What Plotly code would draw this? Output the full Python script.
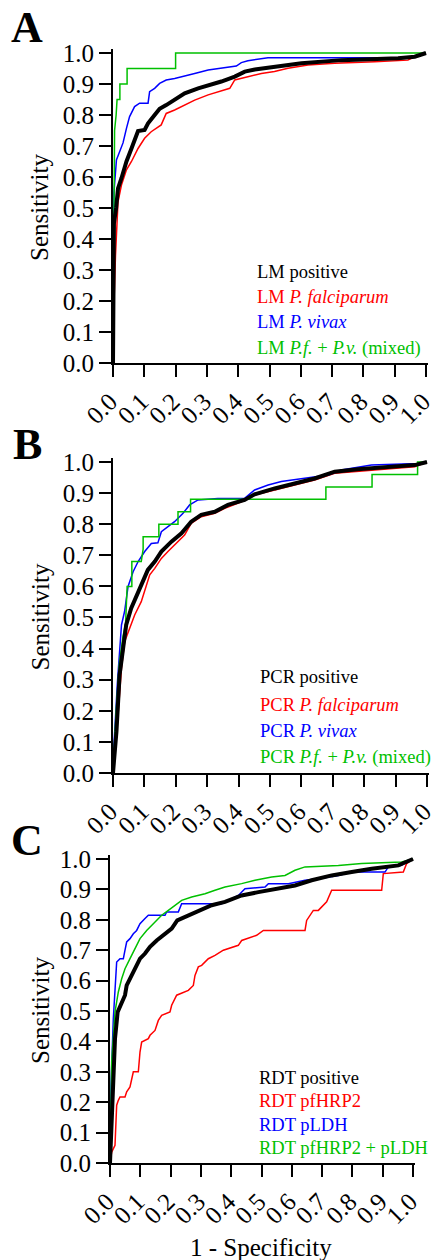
import plotly.graph_objects as go

# ---- data (1 - specificity, sensitivity) ----
# Panel A: light microscopy
lm_pos_fpr = [0, 0.003, 0.01, 0.016, 0.027, 0.043, 0.059, 0.08, 0.101, 0.112, 0.133, 0.149, 0.17, 0.197,
              0.229, 0.272, 0.314, 0.346, 0.389, 0.421, 0.453, 0.516, 0.602, 0.73, 0.911, 0.964, 1.0]
lm_pos_tpr = [0, 0.45, 0.5, 0.563, 0.596, 0.65, 0.692, 0.748, 0.752, 0.773, 0.8, 0.82, 0.832, 0.848,
              0.87, 0.886, 0.897, 0.908, 0.924, 0.94, 0.947, 0.956, 0.967, 0.977, 0.983, 0.988, 1.0]
lm_pf_fpr = [0, 0.003, 0.008, 0.016, 0.027, 0.043, 0.059, 0.08, 0.101, 0.122, 0.154, 0.17, 0.197, 0.229,
             0.261, 0.304, 0.336, 0.373, 0.389, 0.431, 0.474, 0.516, 0.559, 0.623, 0.708, 0.836, 0.942, 0.964, 1.0]
lm_pf_tpr = [0, 0.19, 0.348, 0.52, 0.574, 0.623, 0.65, 0.692, 0.725, 0.746, 0.768, 0.805, 0.816, 0.832,
             0.848, 0.865, 0.875, 0.886, 0.913, 0.924, 0.934, 0.94, 0.951, 0.961, 0.967, 0.972, 0.977, 0.988, 1.0]
lm_pv_fpr = [0, 0.003, 0.011, 0.021, 0.032, 0.043, 0.053, 0.069, 0.085, 0.112, 0.117, 0.133, 0.149, 0.17,
             0.197, 0.261, 0.304, 0.394, 0.41, 0.431, 0.495, 0.942, 0.985, 1.0]
lm_pv_tpr = [0, 0.55, 0.655, 0.68, 0.71, 0.757, 0.795, 0.827, 0.838, 0.838, 0.875, 0.886, 0.902, 0.913,
             0.918, 0.934, 0.945, 0.958, 0.969, 0.975, 0.985, 0.985, 0.995, 1.0]
lm_mix_fpr = [0, 0.003, 0.005, 0.01, 0.013, 0.022, 0.022, 0.045, 0.045, 0.2, 0.2, 1.0]
lm_mix_tpr = [0, 0.6, 0.75, 0.8, 0.85, 0.85, 0.9, 0.9, 0.95, 0.95, 1.0, 1.0]

# Panel B: PCR
pcr_pos_fpr = [0, 0.011, 0.021, 0.032, 0.042, 0.058, 0.08, 0.101, 0.111, 0.133, 0.154, 0.186, 0.218, 0.249,
               0.281, 0.324, 0.366, 0.419, 0.451, 0.515, 0.579, 0.642, 0.706, 0.78, 0.886, 0.961, 1.0]
pcr_pos_tpr = [0, 0.133, 0.315, 0.4, 0.476, 0.53, 0.583, 0.637, 0.653, 0.68, 0.712, 0.744, 0.771, 0.808,
               0.83, 0.84, 0.862, 0.878, 0.896, 0.915, 0.931, 0.947, 0.969, 0.977, 0.985, 0.99, 1.0]
pcr_pf_fpr = [0, 0.005, 0.016, 0.027, 0.037, 0.053, 0.069, 0.09, 0.106, 0.117, 0.133, 0.154, 0.175, 0.196,
              0.228, 0.249, 0.281, 0.324, 0.356, 0.409, 0.451, 0.515, 0.579, 0.642, 0.706, 0.833, 0.961, 1.0]
pcr_pf_tpr = [0, 0.047, 0.186, 0.337, 0.422, 0.465, 0.508, 0.551, 0.604, 0.637, 0.658, 0.69, 0.712, 0.733,
              0.765, 0.803, 0.824, 0.835, 0.851, 0.872, 0.894, 0.91, 0.926, 0.942, 0.964, 0.974, 0.985, 1.0]
pcr_pv_fpr = [0, 0.003, 0.014, 0.021, 0.027, 0.037, 0.048, 0.064, 0.08, 0.101, 0.122, 0.143, 0.154, 0.196,
              0.223, 0.244, 0.271, 0.334, 0.419, 0.451, 0.494, 0.536, 0.61, 0.685, 0.727, 0.823, 0.971, 1.0]
pcr_pv_tpr = [0, 0.09, 0.29, 0.38, 0.476, 0.52, 0.6, 0.647, 0.68, 0.712, 0.738, 0.74, 0.776, 0.808,
              0.835, 0.862, 0.878, 0.883, 0.883, 0.91, 0.926, 0.937, 0.947, 0.958, 0.974, 0.99, 0.995, 1.0]
pcr_mix_fpr = [0, 0.01, 0.02, 0.032, 0.04, 0.045, 0.06, 0.06, 0.09, 0.096, 0.096, 0.146, 0.146, 0.207, 0.207,
               0.247, 0.247, 0.678, 0.678, 0.825, 0.825, 0.97, 0.97, 1.0]
pcr_mix_tpr = [0, 0.2, 0.35, 0.44, 0.48, 0.6, 0.6, 0.68, 0.68, 0.72, 0.76, 0.76, 0.8, 0.8, 0.84,
               0.84, 0.88, 0.88, 0.92, 0.92, 0.96, 0.96, 1.0, 1.0]

# Panel C: RDT
rdt_pos_fpr = [0, 0.0055, 0.0165, 0.0253, 0.0385, 0.0495, 0.055, 0.066, 0.0825, 0.099, 0.1155, 0.132, 0.154,
               0.176, 0.2035, 0.222, 0.2585, 0.2915, 0.3355, 0.3795, 0.4345, 0.4895, 0.5556, 0.6106, 0.6656,
               0.7316, 0.7976, 0.8636, 0.9516, 0.979, 1.0]
rdt_pos_tpr = [0, 0.146, 0.409, 0.497, 0.53, 0.552, 0.584, 0.606, 0.639, 0.672, 0.689, 0.711, 0.732,
               0.749, 0.771, 0.798, 0.815, 0.831, 0.848, 0.859, 0.88, 0.891, 0.902, 0.913, 0.93,
               0.946, 0.957, 0.968, 0.979, 0.99, 1.0]
rdt_hrp2_fpr = [0, 0.0055, 0.0165, 0.022, 0.0275, 0.033, 0.0495, 0.055, 0.066, 0.077, 0.0935, 0.099, 0.1045,
                0.1265, 0.132, 0.1485, 0.1595, 0.1705, 0.198, 0.2035, 0.22, 0.2585, 0.275, 0.2805, 0.2915,
                0.3025, 0.3245, 0.3465, 0.374, 0.4235, 0.4345, 0.484, 0.506, 0.6436, 0.649, 0.671, 0.6876,
                0.715, 0.7316, 0.8966, 0.902, 0.968, 0.979, 0.9956, 1.0]
rdt_hrp2_tpr = [0, 0.036, 0.058, 0.19, 0.206, 0.217, 0.217, 0.234, 0.25, 0.3, 0.3, 0.365, 0.398,
                0.409, 0.42, 0.436, 0.469, 0.486, 0.497, 0.519, 0.552, 0.568, 0.584, 0.617, 0.645,
                0.65, 0.672, 0.683, 0.7, 0.716, 0.732, 0.749, 0.765, 0.765, 0.798, 0.831, 0.831,
                0.859, 0.897, 0.897, 0.952, 0.957, 0.985, 0.996, 1.0]
rdt_pldh_fpr = [0, 0.0033, 0.011, 0.022, 0.033, 0.044, 0.0495, 0.055, 0.066, 0.077, 0.088, 0.099, 0.1155,
                0.1265, 0.1815, 0.187, 0.2255, 0.2365, 0.3685, 0.4235, 0.4455, 0.5116, 0.5226, 0.5886,
                0.6436, 0.6876, 0.7536, 0.7976, 0.9076, 0.9186, 0.9626, 0.9846, 1.0]
rdt_pldh_tpr = [0, 0.255, 0.475, 0.661, 0.672, 0.672, 0.7, 0.727, 0.738, 0.754, 0.765, 0.787, 0.804,
                0.815, 0.815, 0.826, 0.826, 0.853, 0.853, 0.88, 0.902, 0.908, 0.919, 0.919,
                0.93, 0.935, 0.946, 0.957, 0.957, 0.974, 0.979, 0.996, 1.0]
rdt_both_fpr = [0, 0.0055, 0.0165, 0.0275, 0.0385, 0.0495, 0.066, 0.0825, 0.099, 0.121, 0.1485, 0.1705,
                0.1925, 0.2145, 0.2365, 0.2695, 0.3135, 0.3465, 0.3795, 0.4345, 0.4785, 0.5336, 0.5776,
                0.6106, 0.6436, 0.7536, 0.8306, 0.9626, 1.0]
rdt_both_tpr = [0, 0.332, 0.497, 0.5625, 0.606, 0.639, 0.672, 0.705, 0.738, 0.765, 0.793, 0.815,
                0.831, 0.848, 0.864, 0.875, 0.886, 0.897, 0.908, 0.919, 0.93, 0.941, 0.946,
                0.963, 0.974, 0.979, 0.985, 0.99, 1.0]

tick_vals = [0.0, 0.1, 0.2, 0.3, 0.4, 0.5, 0.6, 0.7, 0.8, 0.9, 1.0]
tick_text = ["0.0", "0.1", "0.2", "0.3", "0.4", "0.5", "0.6", "0.7", "0.8", "0.9", "1.0"]

legend_a = ["LM positive", "LM <i>P. falciparum</i>", "LM <i>P. vivax</i>",
            "LM <i>P.f.</i> + <i>P.v.</i> (mixed)"]
legend_b = ["PCR positive", "PCR <i>P. falciparum</i>", "PCR <i>P. vivax</i>",
            "PCR <i>P.f.</i> + <i>P.v.</i> (mixed)"]
legend_c = ["RDT positive", "RDT pfHRP2", "RDT pLDH", "RDT pfHRP2 + pLDH"]

W, H = 432, 1260
FONT = "Liberation Serif"
RED, BLUE, GREEN, BLACK = "#ff0000", "#0000ff", "#00c000", "#000000"
colors = [BLACK, RED, BLUE, GREEN]

# pixel positions of value 0 and value 1 on each panel: (x0, x1, y1, y0)
boxes = [(113, 426, 53, 363), (113, 427, 462, 773), (110, 413, 859, 1163)]
XMAX, YMAX = 1.006, 1.013
# legend text: left x and line centres (pixels)
legend_pos = [(255, [272, 297, 322, 348]), (258, [677, 705, 731, 757]), (257, [1078, 1101, 1125, 1148])]
letter_pos = [(27, 27, "A"), (27, 444, "B"), (27, 840, "C")]

panels = [
    [(lm_pos_fpr, lm_pos_tpr), (lm_pf_fpr, lm_pf_tpr), (lm_pv_fpr, lm_pv_tpr), (lm_mix_fpr, lm_mix_tpr)],
    [(pcr_pos_fpr, pcr_pos_tpr), (pcr_pf_fpr, pcr_pf_tpr), (pcr_pv_fpr, pcr_pv_tpr), (pcr_mix_fpr, pcr_mix_tpr)],
    [(rdt_pos_fpr, rdt_pos_tpr), (rdt_hrp2_fpr, rdt_hrp2_tpr), (rdt_pldh_fpr, rdt_pldh_tpr), (rdt_both_fpr, rdt_both_tpr)],
]
legends = [legend_a, legend_b, legend_c]

fig = go.Figure()
annotations = []

for i, (series, box) in enumerate(zip(panels, boxes)):
    n = "" if i == 0 else str(i + 1)
    x0, x1, y1, y0 = box
    right = x0 + XMAX * (x1 - x0)
    top = y0 - YMAX * (y0 - y1)
    # colored curves first, thick black on top
    for k in [1, 2, 3, 0]:
        fx, ty = series[k]
        fig.add_trace(go.Scatter(
            x=fx, y=ty, mode="lines", xaxis="x" + n, yaxis="y" + n,
            line=dict(color=colors[k], width=4 if k == 0 else 1.5),
            showlegend=False, hoverinfo="skip"))
    ax = dict(showgrid=False, zeroline=False, showline=True, linecolor="black",
              linewidth=2, ticks="outside", ticklen=12, tickwidth=2, tickcolor="black",
              tickvals=tick_vals, ticktext=tick_text, automargin=False,
              ticklabeloverflow="allow",
              tickfont=dict(family=FONT, size=25, color="black"))
    fig.layout["xaxis" + n] = dict(ax, range=[0, XMAX], domain=[x0 / W, right / W],
                                   anchor="y" + n, tickangle=-45, ticklabelshift=-3)
    fig.layout["yaxis" + n] = dict(ax, range=[0, YMAX], domain=[1 - y0 / H, 1 - top / H],
                                   anchor="x" + n)

    # y title
    annotations.append(dict(x=40 / W, y=1 - (y1 + y0) / 2 / H, xref="paper", yref="paper",
                            text="Sensitivity", textangle=-90, showarrow=False,
                            font=dict(family=FONT, size=25, color="black"),
                            xanchor="center", yanchor="middle"))
    # legend text
    lx, lys = legend_pos[i]
    for k, (txt, ly) in enumerate(zip(legends[i], lys)):
        annotations.append(dict(x=lx / W, y=1 - ly / H, xref="paper", yref="paper", text=txt,
                                showarrow=False, xanchor="left", yanchor="middle",
                                font=dict(family=FONT, size=18.5, color=colors[k])))
    # panel letter
    px_, py_, letter = letter_pos[i]
    annotations.append(dict(x=px_ / W, y=1 - py_ / H, xref="paper", yref="paper",
                            text="<b>" + letter + "</b>", showarrow=False,
                            xanchor="center", yanchor="middle",
                            font=dict(family=FONT, size=44, color="black")))

annotations.append(dict(x=261 / W, y=1 - 1247 / H, xref="paper", yref="paper", text="1 - Specificity",
                        showarrow=False, xanchor="center", yanchor="middle",
                        font=dict(family=FONT, size=25, color="black")))

fig.update_layout(width=W, height=H, margin=dict(l=0, r=0, t=0, b=0),
                  paper_bgcolor="white", plot_bgcolor="white",
                  annotations=annotations, showlegend=False)

fig.write_html("out.html", config={"displayModeBar": False},
               post_script="document.body.style.margin='0';document.body.style.overflow='hidden';")
